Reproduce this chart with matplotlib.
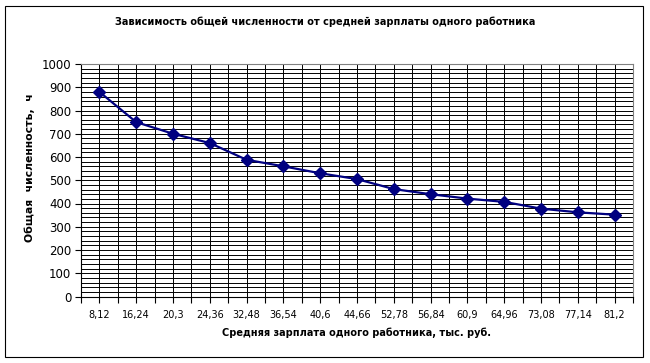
import matplotlib
matplotlib.use("Agg")
import matplotlib.pyplot as plt
import numpy as np
from matplotlib.patches import Rectangle

categories = ["8,12", "16,24", "20,3", "24,36", "32,48", "36,54", "40,6", "44,66",
              "52,78", "56,84", "60,9", "64,96", "73,08", "77,14", "81,2"]
values = [880, 750, 700, 660, 588, 560, 530, 505, 462, 440, 421, 407, 378, 362, 352]
y_ticks = [0, 100, 200, 300, 400, 500, 600, 700, 800, 900, 1000]

title = "Зависимость общей численности от средней зарплаты одного работника"
xlabel = "Средняя зарплата одного работника, тыс. руб."
ylabel = "Общая  численность,  ч"

plt.rcParams['font.family'] = ['DejaVu Sans']
fig = plt.figure(figsize=(6.5, 3.63), dpi=100)
fig.patch.set_facecolor("white")

# outer chart border
fig.add_artist(Rectangle((5/650, 1-357/363), (643-5)/650, (357-6)/363,
                         transform=fig.transFigure, fill=False,
                         edgecolor="black", linewidth=0.8))

ax = fig.add_axes([81/650, 1-296.5/363, (633-81)/650, (296.5-64)/363])
x = np.arange(len(categories))

# grid
for yy in np.arange(0, 1001, 20):
    ax.axhline(yy, color="black", linewidth=0.7, zorder=1)
for xx in np.arange(-0.5, len(categories) - 0.5 + 0.01, 0.5):
    ax.axvline(xx, color="black", linewidth=0.7, zorder=1)

ax.plot(x, values, color="#000080", linewidth=1.6, marker="D", markersize=6,
        markerfacecolor="#000080", markeredgecolor="#000080", zorder=3)

ax.set_xlim(-0.5, len(categories) - 0.5)
ax.set_ylim(0, 1000)
ax.set_xticks(x)
ax.set_xticklabels(categories, fontsize=7)
ax.set_xticks(np.arange(-0.5, len(categories), 1.0), minor=True)
ax.set_yticks(y_ticks)
ax.set_yticklabels([str(v) for v in y_ticks], fontsize=8.5)
ax.tick_params(axis="x", which="both", direction="out", length=4, width=0.8, pad=6)
ax.tick_params(axis="y", which="both", direction="out", length=4, width=0.8, pad=3)

for s in ["top", "right"]:
    ax.spines[s].set_color("#808080")
    ax.spines[s].set_linewidth(0.8)
for s in ["left", "bottom"]:
    ax.spines[s].set_color("black")
    ax.spines[s].set_linewidth(0.8)

fig.text(325/650, 1-22/363, title, ha="center", va="center", fontsize=7, fontweight="bold")
fig.text(357/650, 1-333/363, xlabel, ha="center", va="center", fontsize=7, fontweight="bold")
fig.text(30/650, 1-168/363, ylabel, ha="center", va="center", rotation=90,
         fontsize=7.8, fontweight="bold")

fig.savefig("out.png", dpi=100, facecolor="white")
